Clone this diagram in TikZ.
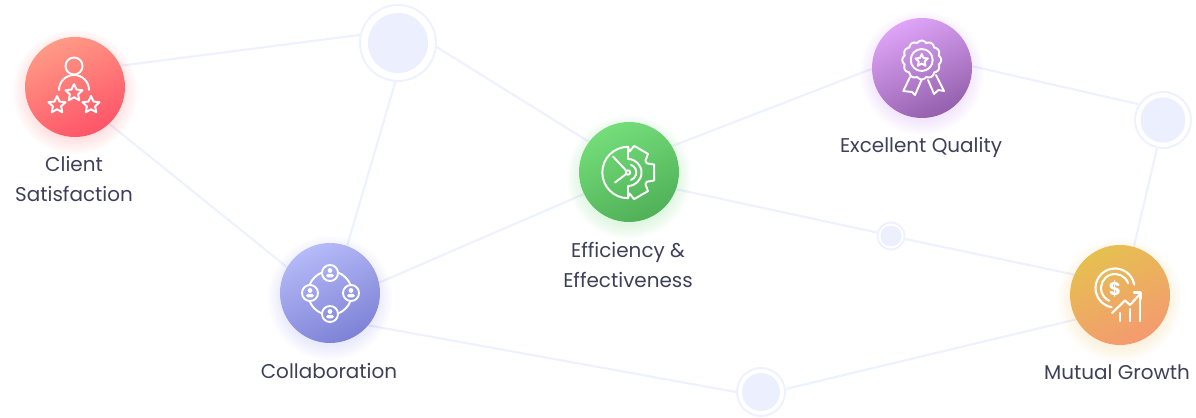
\documentclass[tikz,border=0pt]{standalone}
\usepackage{fontspec}
\setmainfont{Poppins}
\usetikzlibrary{backgrounds,shapes.geometric}
\definecolor{hubblue}{HTML}{ECF0FE}
\definecolor{linkblue}{HTML}{EEF1FF}
\definecolor{textdark}{HTML}{3D4058}
\definecolor{glowred}{HTML}{FF6A6A}
\definecolor{glowblue}{HTML}{9094F0}
\definecolor{glowgreen}{HTML}{62D06A}
\definecolor{glowpurple}{HTML}{C080F0}
\definecolor{glowgold}{HTML}{EEC060}
\definecolor{redtop}{HTML}{FF9A86}
\definecolor{redbot}{HTML}{FF5468}
\definecolor{bluetop}{HTML}{B5BAF8}
\definecolor{bluebot}{HTML}{7E82D6}
\definecolor{greentop}{HTML}{74DE7A}
\definecolor{greenbot}{HTML}{50B058}
\definecolor{purpletop}{HTML}{DFA4F8}
\definecolor{purplebot}{HTML}{9360AC}
\definecolor{goldtop}{HTML}{E6C050}
\definecolor{goldbot}{HTML}{F49A70}
\tikzset{
  badge/.style={circle,minimum size=2cm,inner sep=0pt,top color=#1top,bottom color=#1bot,shading angle=25},
  hubring/.style={circle,draw=linkblue,line width=1.1pt,fill=white,inner sep=0pt},
  hubcore/.style={circle,fill=hubblue,inner sep=0pt},
  link/.style={draw=linkblue,line width=1.2pt},
  icon/.style={draw=white,line width=1.1pt,line cap=round,line join=round},
  lbl/.style={font=\fontsize{11.35}{17}\selectfont,text=textdark,align=center,inner sep=0pt},
  starmark/.style={star,star points=5,star point ratio=2.1,draw=white,line width=1.1pt,inner sep=0pt,minimum size=#1,line join=round},
}
\begin{document}
\begin{tikzpicture}[x=.02cm,y=-.02cm]
\useasboundingbox (0,0) rectangle (1196,418);
\foreach \x/\y/\c in {75/87/glowred, 330/293/glowblue, 629/172/glowgreen, 922/68/glowpurple, 1120/295/glowgold} {
  \foreach \r in {48,50,...,62} {
    \fill[\c,opacity=.028] (\x,\y+5) circle (\r);
  }
}
\node[badge=red] (client) at (75,87) {};
\node[badge=blue] (collab) at (330,293) {};
\node[badge=green] (effic) at (629,172) {};
\node[badge=purple] (quality) at (922,68) {};
\node[badge=gold] (growth) at (1120,295) {};
\node[hubring,minimum size=1.52cm] (hubA) at (398,43) {};
\node[hubcore,minimum size=1.2cm] (coreA) at (hubA) {};
\node[hubring,minimum size=1.12cm] (hubB) at (1163,120) {};
\node[hubcore,minimum size=.9cm] (coreB) at (hubB) {};
\node[hubring,minimum size=.96cm] (hubC) at (761,392) {};
\node[hubcore,minimum size=.76cm] (coreC) at (hubC) {};
\node[hubring,minimum size=.54cm] (hubD) at (891,236) {};
\node[hubcore,minimum size=.42cm] (coreD) at (hubD) {};
\begin{pgfonlayer}{background}
\foreach \a/\b in {client.25/hubA.168, client.-47/collab.149, hubA.-94/collab.70, hubA.-6/effic.143, collab.12/effic.-154, effic.31/quality.181, effic.-20/hubD.166, hubD.-12/growth.156, quality.2/hubB.147, hubB.-102/growth.74, collab.-40/hubC.180, hubC.7/growth.209} {
  \draw[link] (\a) -- (\b);
}
\end{pgfonlayer}
\node[lbl] (clientlbl) at (74,179) {Client\\Satisfaction};
\node[lbl] (collablbl) at (329,371) {Collaboration};
\node[lbl] (efficlbl) at (628,265) {Efficiency \&\\Effectiveness};
\node[lbl] (qualitylbl) at (921,147) {Excellent Quality};
\node[lbl] (growthlbl) at (1117,372) {Mutual Growth};
% client
\draw[icon] (74,66) circle (8.5);
\draw[icon] (59,90) arc (180:360:15);
\node[starmark=.36cm] (starA) at (74,93) {};
\node[starmark=.36cm] (starB) at (57,105) {};
\node[starmark=.36cm] (starC) at (91,105) {};
% collaboration
\foreach \x/\y in {330/273, 310/293, 351/293, 330/314} {
  \draw[icon] (\x,\y) circle (8);
  \fill[white] (\x,\y-2.5) circle (2.4);
  \fill[white,rounded corners=1pt] (\x-4,\y+4.5) rectangle (\x+4,\y+.8);
}
\foreach \a in {45,135,225,315} {
  \draw[icon] ([shift={(\a-23:22)}]330,293) arc (\a-23:\a+23:22);
}
% efficiency
\begin{scope}[shift={(628,172.5)}]
\draw[icon] (0,-25.7) arc (-90:-270:25.7) -- (0,13.5);
\draw[icon] (0,-25.7) -- (0,-13.5);
\draw[icon] (0,-13.5) arc (-90:90:13.5);
\draw[icon] (3,-7.6) arc (-70:70:8);
\draw[icon] (0,0) circle (2.2);
\draw[icon] (-1.6,-1.6) -- (-15,-16);
\draw[icon] (-1.8,1.4) -- (-13,10);
\draw[icon] (0,-25.7) \foreach \a in {-60,0,60} {
  -- (\a-26:21) -- (\a-17:27.3) -- (\a+17:27.3) -- (\a+26:21)
} -- (0,25.7);
\end{scope}
% quality
\draw[icon] plot[domain=0:360,samples=145,smooth] ({921.7+(17.6+1.8*abs(cos(6*\x)))*cos(\x)},{60+(17.6+1.8*abs(cos(6*\x)))*sin(\x)});
\draw[icon] (921.7,60) circle (11);
\node[starmark=.26cm] (medal) at (921.7,60.5) {};
\draw[icon] (910,77) -- (903.3,91) -- (912,92) -- (915,95) -- (921.5,80);
\draw[icon] (928,80) -- (934,94) -- (938.5,90) -- (944,91) -- (936,75);
% growth
\draw[icon,line width=1.2pt] ([shift={(-10:19.5)}]1115,288) arc (-10:-260:19.5);
\draw[icon,line width=1.2pt] ([shift={(-20:14)}]1115,288) arc (-20:-245:14);
\node[font=\fontsize{10.5}{10.5}\selectfont\bfseries,text=white,inner sep=0pt] (dollar) at (1115,288.5) {\$};
\draw[icon,line width=1.2pt] (1112,313) -- (1125,300.5) -- (1130,305) -- (1140.5,293.5);
\draw[icon,line width=1.2pt] (1134,292.5) -- (1140.5,292.5) -- (1140.5,299);
\foreach \x/\y in {1120/313, 1130/309, 1140/300} {
  \draw[icon,line width=1.2pt] (\x,321) -- (\x,\y);
}
\end{tikzpicture}
\end{document}
